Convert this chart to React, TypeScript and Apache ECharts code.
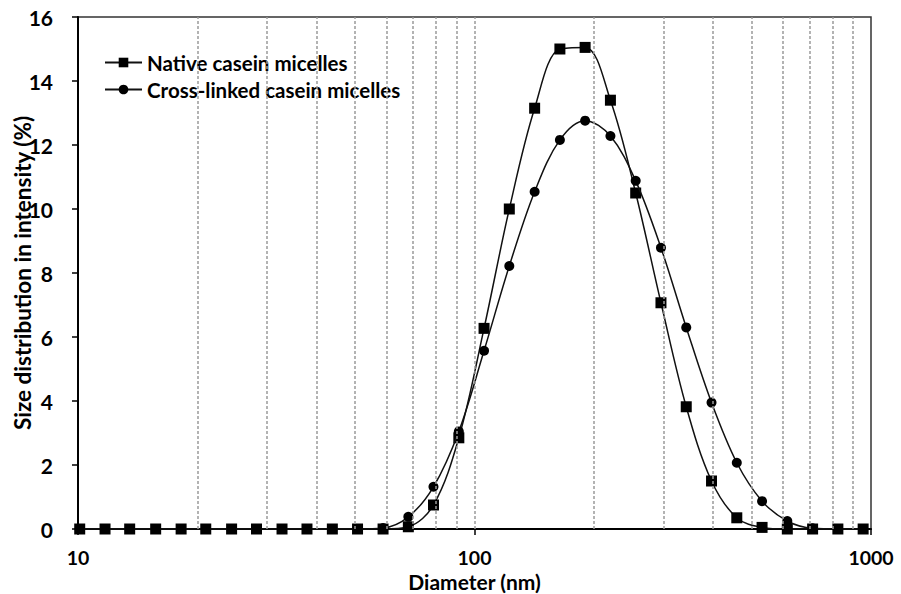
import React, { useEffect, useRef } from "react";
import * as echarts from "echarts";

// Particle diameters (nm), Zetasizer size classes
const diameters = [
  10.1, 11.7, 13.5, 15.7, 18.2, 21.0, 24.4, 28.2, 32.7, 37.8, 43.8, 50.7, 58.8,
  68.1, 78.8, 91.3, 105.7, 122.4, 141.8, 164.2, 190.1, 220.2, 255.0, 295.3,
  342.0, 396.1, 458.7, 531.2, 615.1, 712.4, 825.0, 955.4,
];

// Size distribution in intensity (%)
const nativeValues = [
  0, 0, 0, 0, 0, 0, 0, 0, 0, 0, 0, 0, 0,
  0.07, 0.75, 2.85, 6.27, 10.0, 13.15, 15.0, 15.05, 13.4, 10.5, 7.07,
  3.82, 1.5, 0.35, 0.05, 0, 0, 0, 0,
];
const crossLinkedValues = [
  0, 0, 0, 0, 0, 0, 0, 0, 0, 0, 0, 0, 0.03,
  0.38, 1.32, 3.05, 5.57, 8.22, 10.54, 12.16, 12.76, 12.28, 10.88, 8.79,
  6.3, 3.95, 2.07, 0.87, 0.25, 0.02, 0, 0,
];

const seriesNames = ["Native casein micelles", "Cross-linked casein micelles"];
const xTitle = "Diameter (nm)";
const yTitle = "Size distribution in intensity (%)";
const gridlineDiameters = [20, 30, 40, 50, 60, 70, 80, 90, 100, 200, 300, 400, 500, 600, 700, 800, 900];

export default function App() {
  const ref = useRef<HTMLDivElement>(null);
  useEffect(() => {
    const chart = echarts.init(ref.current!, null, { renderer: "svg" });
    const font = "Lato, 'Open Sans', sans-serif";
    chart.setOption({
      animation: false,
      backgroundColor: "#ffffff",
      grid: {
        left: 78,
        right: 30,
        top: 17,
        bottom: 65,
        containLabel: false,
        outerBoundsMode: "none",
        show: true,
        borderColor: "#333",
        borderWidth: 1.5,
        backgroundColor: "transparent",
      },
      legend: {
        data: seriesNames,
        orient: "vertical",
        left: 99,
        top: 47,
        itemWidth: 37,
        itemHeight: 12,
        itemGap: 6,
        textStyle: { fontFamily: font, fontSize: 20.5, fontWeight: "bold", color: "#000" },
      },
      xAxis: {
        type: "log",
        logBase: 10,
        min: 10,
        max: 1000,
        name: xTitle,
        nameLocation: "middle",
        nameGap: 43.5,
        nameMoveOverlap: false,
        nameTextStyle: { fontFamily: font, fontSize: 21, lineHeight: 18, fontWeight: "bold", color: "#000" },
        axisLine: { lineStyle: { color: "#000", width: 2 } },
        axisTick: { show: true, length: 6, lineStyle: { color: "#000", width: 1.5 } },
        axisLabel: {
          margin: 20,
          fontFamily: font,
          fontSize: 19.5,
          lineHeight: 16,
          fontWeight: "bold",
          color: "#000",
          formatter: (v: number) => String(Math.round(v)),
        },
        splitLine: { show: false },
      },
      yAxis: {
        type: "value",
        min: 0,
        max: 16,
        interval: 2,
        name: yTitle,
        nameLocation: "middle",
        nameGap: 44,
        nameRotate: 90,
        nameMoveOverlap: false,
        nameTextStyle: { fontFamily: font, fontSize: 22.5, fontWeight: "bold", color: "#000" },
        axisLine: { show: true, lineStyle: { color: "#000", width: 2 } },
        axisTick: { show: true, length: 6, lineStyle: { color: "#000", width: 1.5 } },
        axisLabel: { margin: 25, fontFamily: font, fontSize: 21, fontWeight: "bold", color: "#000" },
        splitLine: { show: false },
      },
      series: [
        {
          type: "line",
          data: [],
          silent: true,
          z: 1,
          markLine: {
            silent: true,
            symbol: ["none", "none"],
            label: { show: false },
            lineStyle: { color: "#9a9a9a", type: [3, 2], width: 1.5 },
            data: gridlineDiameters.map((v) => ({ xAxis: v })),
          },
        },
        {
          name: seriesNames[0],
          type: "line",
          data: diameters.map((d, i) => [d, nativeValues[i]]),
          smooth: 0.35,
          symbol: "rect",
          symbolSize: 11,
          lineStyle: { color: "#111", width: 1.5 },
          itemStyle: { color: "#000" },
          z: 3,
        },
        {
          name: seriesNames[1],
          type: "line",
          data: diameters.map((d, i) => [d, crossLinkedValues[i]]),
          smooth: 0.35,
          symbol: "circle",
          symbolSize: 10,
          lineStyle: { color: "#111", width: 1.5 },
          itemStyle: { color: "#000" },
          z: 4,
        },
      ],
    });
    return () => chart.dispose();
  }, []);
  return (
    <div
      ref={ref}
      style={{ position: "fixed", left: 0, top: 0, width: 901, height: 594, background: "#fff" }}
    />
  );
}
